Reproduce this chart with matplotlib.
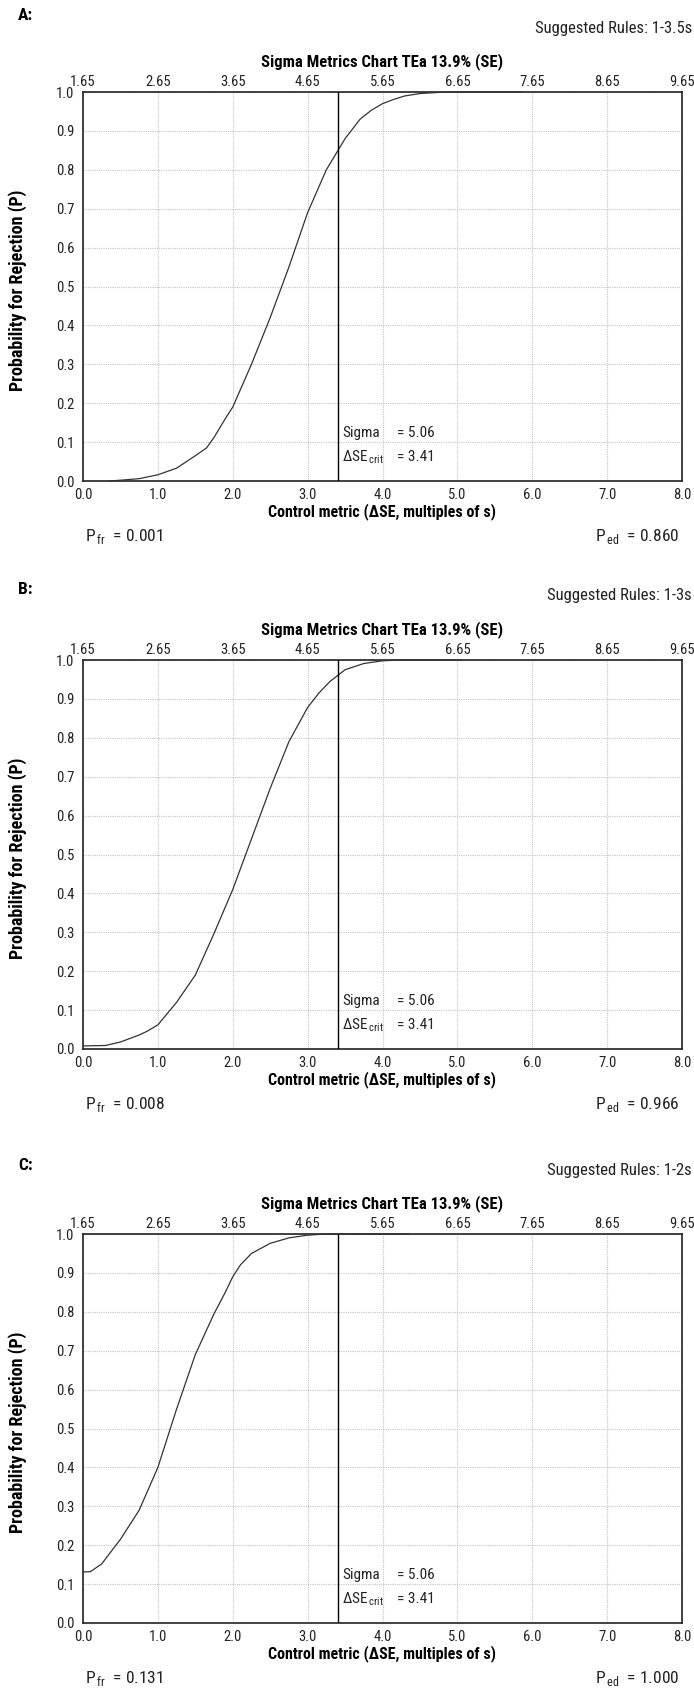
import matplotlib
matplotlib.use("Agg")
import matplotlib.pyplot as plt

FONTS = ["Roboto Condensed", "DejaVu Sans"]
plt.rcParams["font.family"] = FONTS
plt.rcParams["mathtext.fontset"] = "custom"
plt.rcParams["mathtext.rm"] = FONTS[0]

W, H = 694, 1688

# panel data
PANELS = ["A:", "B:", "C:"]
RULES = ["Suggested Rules: 1-3.5s", "Suggested Rules: 1-3s", "Suggested Rules: 1-2s"]
P_FR = ["0.001", "0.008", "0.131"]
P_ED = ["0.860", "0.966", "1.000"]

A_X = [0.35, 0.5, 0.75, 1.0, 1.25, 1.5, 1.65, 1.75, 1.9, 2.0, 2.25, 2.5, 2.75,
       3.0, 3.25, 3.5, 3.6, 3.7, 3.85, 4.0, 4.15, 4.3, 4.5, 4.75, 5.0, 5.85]
A_P = [0.0, 0.002, 0.006, 0.016, 0.033, 0.065, 0.085, 0.112, 0.16, 0.19, 0.30,
       0.42, 0.55, 0.69, 0.80, 0.88, 0.905, 0.93, 0.953, 0.97, 0.981, 0.99,
       0.996, 0.999, 1.0, 1.0]

B_X = [0.0, 0.3, 0.5, 0.75, 0.85, 1.0, 1.25, 1.5, 1.75, 2.0, 2.25, 2.5, 2.75,
       3.0, 3.15, 3.3, 3.5, 3.75, 4.0, 4.25, 5.05]
B_P = [0.008, 0.009, 0.018, 0.036, 0.045, 0.062, 0.12, 0.19, 0.297, 0.41, 0.54,
       0.67, 0.79, 0.878, 0.915, 0.945, 0.975, 0.991, 0.998, 1.0, 1.0]

C_X = [0.0, 0.1, 0.25, 0.4, 0.5, 0.75, 1.0, 1.25, 1.5, 1.75, 1.9, 2.0, 2.1,
       2.25, 2.5, 2.75, 3.0, 3.25, 4.35]
C_P = [0.131, 0.132, 0.152, 0.19, 0.215, 0.29, 0.40, 0.55, 0.69, 0.795, 0.85,
       0.89, 0.92, 0.95, 0.976, 0.99, 0.997, 1.0, 1.0]

CURVES = [(A_X, A_P), (B_X, B_P), (C_X, C_P)]

SIGMA = "5.06"
DSE_CRIT = 3.41
SIGMA_OFFSET = 1.65
X_TICKS = [0, 1, 2, 3, 4, 5, 6, 7, 8]
Y_TICKS = [0.0, 0.1, 0.2, 0.3, 0.4, 0.5, 0.6, 0.7, 0.8, 0.9, 1.0]

# layout in pixels of the 694x1688 image
AX_LEFT, AX_RIGHT = 83, 682
AX_TOPS = [92, 660, 1234]
LETTER_Y = [16, 590, 1166]
AX_H = 389
INK = "#222222"

GRID = dict(color="#c4c4c4", linestyle=(0, (1, 1)), linewidth=0.8)


def fx(x):
    return x / W


def fy(y):
    return 1 - y / H


fig = plt.figure(figsize=(W / 100, H / 100), dpi=100)

for i in range(3):
    top = AX_TOPS[i]
    bot = top + AX_H
    ax = fig.add_axes([fx(AX_LEFT), fy(bot), (AX_RIGHT - AX_LEFT) / W, AX_H / H])
    xs, ps = CURVES[i]
    ax.plot(xs, ps, color="#333333", linewidth=0.9, clip_on=False, zorder=3)
    ax.axvline(DSE_CRIT, color="black", linewidth=1.0, zorder=4)

    ax.set_xlim(0, 8)
    ax.set_ylim(0, 1)
    ax.set_xticks(X_TICKS)
    ax.set_xticklabels([f"{t:.1f}" for t in X_TICKS])
    ax.set_yticks(Y_TICKS)
    ax.set_yticklabels([f"{t:.1f}" for t in Y_TICKS])
    ax.tick_params(axis="x", length=0, labelsize=10.5, pad=5, colors=INK)
    ax.tick_params(axis="y", length=0, labelsize=10.5, pad=6, colors=INK)
    for s in ax.spines.values():
        s.set_linewidth(1.2)
        s.set_color(INK)
    ax.set_axisbelow(True)
    ax.grid(True, **GRID)

    sec = ax.secondary_xaxis("top", functions=(lambda x: x + SIGMA_OFFSET,
                                               lambda s: s - SIGMA_OFFSET))
    sec.set_xticks([t + SIGMA_OFFSET for t in X_TICKS])
    sec.set_xticklabels([f"{t + SIGMA_OFFSET:.2f}" for t in X_TICKS])
    sec.tick_params(length=0, labelsize=10.5, pad=2.5, colors=INK)
    sec.spines["top"].set_visible(False)

    ax.text(3.46, 0.123, "Sigma", fontsize=11, va="center", ha="left", color=INK, zorder=5)
    ax.text(4.19, 0.123, "= " + SIGMA, fontsize=11, va="center", ha="left", color=INK, zorder=5)
    ax.text(3.46, 0.062, "\u0394SE$_{\\,\\mathrm{crit}}$", fontsize=11, va="center",
            ha="left", color=INK, zorder=5)
    ax.text(4.19, 0.062, f"= {DSE_CRIT:.2f}", fontsize=11, va="center", ha="left",
            color=INK, zorder=5)

    fig.text(fx(18), fy(LETTER_Y[i]), PANELS[i], fontsize=12.5, fontweight="bold",
             ha="left", va="center")
    fig.text(fx(692), fy(top - 64), RULES[i], fontsize=12, ha="right",
             va="center", color=INK)
    fig.text(fx((AX_LEFT + AX_RIGHT) / 2), fy(top - 30),
             "Sigma Metrics Chart TEa 13.9% (SE)", fontsize=12,
             fontweight="bold", ha="center", va="center")
    fig.text(fx((AX_LEFT + AX_RIGHT) / 2), fy(bot + 31),
             "Control metric (\u0394SE, multiples of s)", fontsize=11.5,
             fontweight="bold", ha="center", va="center")
    fig.text(fx(18), fy(top + AX_H / 2 + 4), "Probability for Rejection (P)",
             fontsize=13, fontweight="bold", rotation=90, ha="center", va="center")
    fig.text(fx(85), fy(bot + 55), "P$_{\\,\\mathrm{fr}}$  = " + P_FR[i],
             fontsize=12.5, ha="left", va="center", color=INK)
    fig.text(fx(679), fy(bot + 55), "P$_{\\,\\mathrm{ed}}$  = " + P_ED[i],
             fontsize=12.5, ha="right", va="center", color=INK)

fig.savefig("out.png", dpi=100, facecolor="white")
